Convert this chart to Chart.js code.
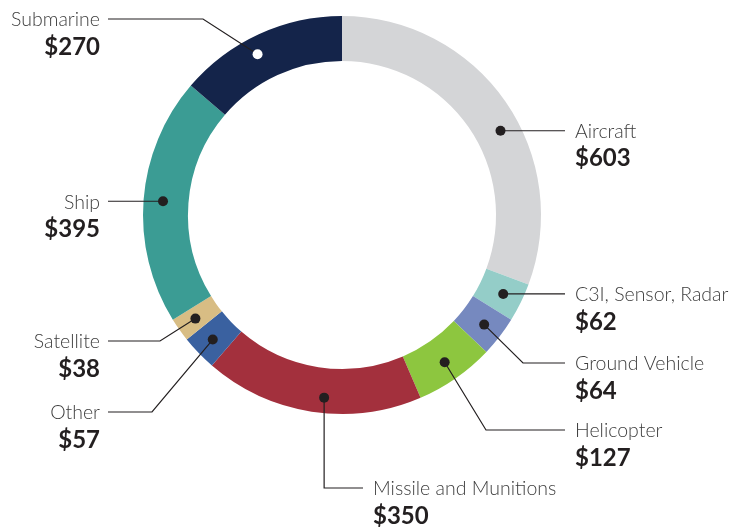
<!DOCTYPE html>
<html lang="en">
<head>
  <meta charset="UTF-8">
  <title>Spending by Category</title>
  <script src="https://cdn.jsdelivr.net/npm/chart.js"></script>
  <style>
    html, body { margin: 0; padding: 0; background: #fff; }
    #wrap { width: 731px; height: 527px; position: relative; }
  </style>
</head>
<body>
<div id="wrap"><canvas id="donut"></canvas></div>

<script>
// data, clockwise from 12 o'clock
const categories = ["Aircraft", "C3I, Sensor, Radar", "Ground Vehicle", "Helicopter",
  "Missile and Munitions", "Other", "Satellite", "Ship", "Submarine"];
const amounts = [603, 62, 64, 127, 350, 57, 38, 395, 270];
const colors = ["#d4d5d7", "#94cdc8", "#7689bf", "#8dc63f", "#a3303d",
  "#3a61a0", "#d8bd84", "#3b9c94", "#14244a"];

// callout layout: line y, elbow x, side, dot nudge (deg / px); null = follow the dot
const callouts = [
  { side: 'right', lineY: null, elbowX: null, nudge: 6.8 },
  { side: 'right', lineY: null, elbowX: null },
  { side: 'right', lineY: 363, elbowX: 523 },
  { side: 'right', lineY: 430, elbowX: 486 },
  { side: 'right', lineY: 488, elbowX: null, lineEnd: 363, textX: 373, nudge: -3.2, dr: 4 },
  { side: 'left', lineY: 412, elbowX: 152 },
  { side: 'left', lineY: 341, elbowX: 160 },
  { side: 'left', lineY: null, elbowX: null },
  { side: 'left', lineY: 19, elbowX: 203, dot: '#fff', nudge: -3, dr: 2 }
];

const ink = '#231f20';

const calloutPlugin = {
  id: 'callouts',
  afterDatasetsDraw(chart) {
    const ctx = chart.ctx;
    const arcs = chart.getDatasetMeta(0).data;
    arcs.forEach((arc, i) => {
      const c = callouts[i];
      const mid = (arc.startAngle + arc.endAngle) / 2 + (c.nudge || 0) * Math.PI / 180;
      const r = (arc.innerRadius + arc.outerRadius) / 2 + 3 + (c.dr || 0);
      const p = { x: arc.x + Math.cos(mid) * r, y: arc.y + Math.sin(mid) * r };
      const lineY = c.lineY == null ? p.y : c.lineY;
      const elbowX = c.elbowX == null ? p.x : c.elbowX;
      let endX, textX, align;
      if (c.side === 'right') {
        endX = c.lineEnd || 565; textX = c.textX || 575; align = 'left';
      } else {
        endX = 108; textX = 100; align = 'right';
      }
      ctx.save();
      ctx.strokeStyle = ink;
      ctx.lineWidth = 1.2;
      ctx.beginPath();
      ctx.moveTo(p.x, p.y);
      ctx.lineTo(elbowX, lineY);
      ctx.lineTo(endX, lineY);
      ctx.stroke();
      ctx.fillStyle = c.dot || ink;
      ctx.beginPath();
      ctx.arc(p.x, p.y, 5, 0, Math.PI * 2);
      ctx.fill();

      ctx.textAlign = align;
      ctx.textBaseline = 'middle';
      ctx.fillStyle = '#3d3d3d';
      ctx.font = '300 19.5px Lato, "Open Sans", sans-serif';
      ctx.fillText(categories[i], textX, lineY + 1);
      ctx.fillStyle = ink;
      ctx.font = '700 24px Lato, "Open Sans", sans-serif';
      ctx.fillText('$' + amounts[i], textX, lineY + 28);
      ctx.restore();
    });
  }
};

new Chart(document.getElementById('donut'), {
  type: 'doughnut',
  data: {
    labels: categories,
    datasets: [{ data: amounts, backgroundColor: colors, borderWidth: 0 }]
  },
  options: {
    responsive: true,
    maintainAspectRatio: false,
    animation: false,
    cutout: '77.4%',
    layout: { padding: { left: 143, right: 190, top: 16, bottom: 113 } },
    plugins: { legend: { display: false }, tooltip: { enabled: false } }
  },
  plugins: [calloutPlugin]
});
</script>
</body>
</html>
